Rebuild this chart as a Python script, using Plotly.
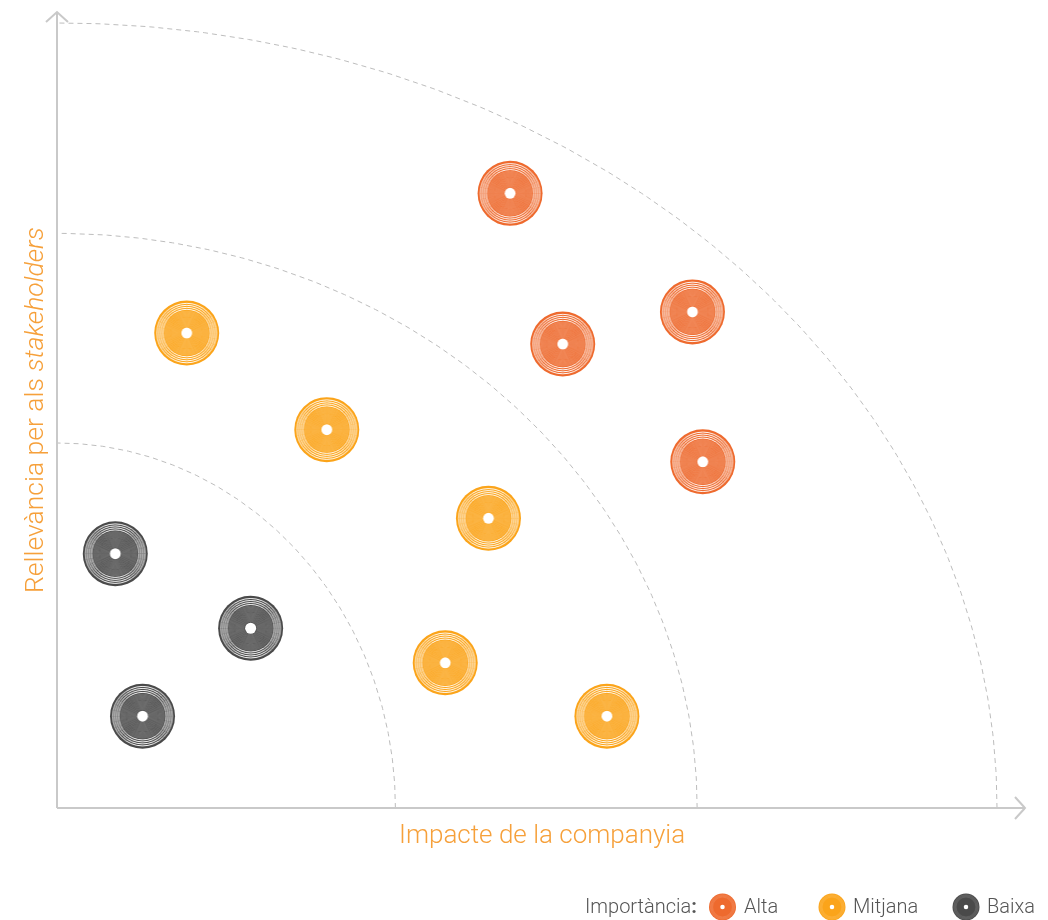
import numpy as np
import plotly.graph_objects as go

# page body adds an 8px margin; the figure is sized/offset to compensate
OFF = 8
W, H = 1048 - OFF, 920 - OFF

# ---------------- data ----------------
categories = ["Alta", "Mitjana", "Baixa"]
alta_x = [4.82, 5.38, 6.76, 6.87]
alta_y = [7.83, 5.91, 6.32, 4.41]
mitjana_x = [1.38, 2.87, 4.59, 4.13, 5.85]
mitjana_y = [6.05, 4.82, 3.69, 1.85, 1.17]
baixa_x = [0.62, 2.06, 0.91]
baixa_y = [3.24, 2.29, 1.17]
zone_rx = [3.6, 6.81, 10.0]
zone_ry = [4.65, 7.32, 10.0]

x_title = "Impacte de la companyia"
y_title = "Rellevància per als <i>stakeholders</i>"
legend_title = "Importància<b>:</b>"

colors = {"Alta": "#EE6A2E", "Mitjana": "#FBA41A", "Baixa": "#4A4A4A"}
series = {"Alta": (alta_x, alta_y), "Mitjana": (mitjana_x, mitjana_y), "Baixa": (baixa_x, baixa_y)}

FONT = "Roboto"
ORANGE_TXT = "#F6A03A"
AXIS_COL = "#C9C9C9"

# ---------------- layout geometry (reference pixels, shifted by OFF) ----------------
px_per_x = 94.0
px_per_y = 78.5
x0_px, y0_px = 57 - OFF, 808 - OFF
xr = [-0.4, (1030 - OFF - x0_px) / px_per_x]
yr = [-0.3, (y0_px - (10 - OFF)) / px_per_y]
x_dom = [(x0_px + xr[0] * px_per_x) / W, (x0_px + xr[1] * px_per_x) / W]
y_dom = [1 - (y0_px - yr[0] * px_per_y) / H, 1 - (y0_px - yr[1] * px_per_y) / H]

fig = go.Figure()


def record(xs, ys, color, scale, xa="x", ya="y", moire=True):
    def sc(**kw):
        return go.Scatter(x=xs, y=ys, mode="markers", xaxis=xa, yaxis=ya,
                          hoverinfo="skip", showlegend=False, **kw)
    fig.add_trace(sc(marker=dict(size=65 * scale, color=color, line=dict(width=0))))
    for d in [59.5, 55.5, 51.5, 47.5]:
        fig.add_trace(sc(marker=dict(symbol="circle-open", size=d * scale, color="white",
                                     line=dict(width=max(1.0 * scale, 0.5))),
                         opacity=0.95 if scale > 0.8 else 0.2))
    if moire:
        for d in np.arange(44, 13, -2.2):
            fig.add_trace(sc(marker=dict(symbol="circle-open", size=d * scale, color="white",
                                         line=dict(width=0.6)), opacity=0.35))
    fig.add_trace(sc(marker=dict(size=11 * scale, color="white", line=dict(width=0))))


# zone arcs (dashed)
t = np.linspace(0, np.pi / 2, 200)
for rx, ry in zip(zone_rx, zone_ry):
    fig.add_trace(go.Scatter(x=rx * np.cos(t), y=ry * np.sin(t), mode="lines",
                             line=dict(color="#BDBDBD", width=1, dash="5px,4px"),
                             hoverinfo="skip", showlegend=False))

# axis lines with chevrons
x_tip = (1025 - OFF - x0_px) / px_per_x
y_tip = (y0_px - (12 - OFF)) / px_per_y
shapes = [
    dict(type="line", xref="x", yref="y", x0=0, y0=0, x1=x_tip, y1=0,
         line=dict(color=AXIS_COL, width=2)),
    dict(type="line", xref="x", yref="y", x0=0, y0=0, x1=0, y1=y_tip,
         line=dict(color=AXIS_COL, width=2)),
    dict(type="path", xref="x", yref="y",
         path=f"M {x_tip - 10/px_per_x} {11/px_per_y} L {x_tip} 0 L {x_tip - 10/px_per_x} {-11/px_per_y}",
         line=dict(color=AXIS_COL, width=2)),
    dict(type="path", xref="x", yref="y",
         path=f"M {-11/px_per_x} {y_tip - 10/px_per_y} L 0 {y_tip} L {11/px_per_x} {y_tip - 10/px_per_y}",
         line=dict(color=AXIS_COL, width=2)),
]

# data markers
for cat in categories:
    xs, ys = series[cat]
    record(xs, ys, colors[cat], 1.0)

# legend (overlay axes in pixel space)
leg_icon_x = {"Alta": 722.5 - OFF, "Mitjana": 832 - OFF, "Baixa": 966 - OFF}
leg_y = 907 - OFF
for cat in categories:
    record([leg_icon_x[cat]], [leg_y], colors[cat], 27 / 65, xa="x2", ya="y2", moire=False)


def px(x):
    return (x - OFF) / W


def py(y):
    return 1 - (y - OFF) / H


annotations = [
    dict(text=x_title, xref="paper", yref="paper", x=px(542), y=py(834),
         xanchor="center", yanchor="middle", showarrow=False,
         font=dict(family=FONT, size=26, color=ORANGE_TXT, weight=300)),
    dict(text=y_title, xref="paper", yref="paper", x=px(33), y=py(410),
         xanchor="center", yanchor="middle", showarrow=False, textangle=-90,
         font=dict(family=FONT, size=26.5, color=ORANGE_TXT, weight=300)),
    dict(text=legend_title, xref="paper", yref="paper", x=px(699), y=py(906),
         xanchor="right", yanchor="middle", showarrow=False,
         font=dict(family=FONT, size=20, color="#555555", weight=300)),
]
for cat in categories:
    annotations.append(dict(text=cat, xref="paper", yref="paper",
                            x=px(leg_icon_x[cat] + OFF + 19), y=py(906),
                            xanchor="left", yanchor="middle", showarrow=False,
                            font=dict(family=FONT, size=20, color="#555555", weight=300)))

fig.update_layout(
    width=W, height=H,
    margin=dict(l=0, r=0, t=0, b=0),
    paper_bgcolor="white", plot_bgcolor="rgba(0,0,0,0)",
    font=dict(family=FONT),
    xaxis=dict(domain=x_dom, range=xr, visible=False, fixedrange=True),
    yaxis=dict(domain=y_dom, range=yr, visible=False, fixedrange=True),
    xaxis2=dict(domain=[0, 1], range=[0, W], visible=False, anchor="y2", fixedrange=True),
    yaxis2=dict(domain=[0, 1], range=[H, 0], visible=False, anchor="x2", fixedrange=True),
    shapes=shapes,
    annotations=annotations,
    showlegend=False,
)

fig.write_html("out.html")
